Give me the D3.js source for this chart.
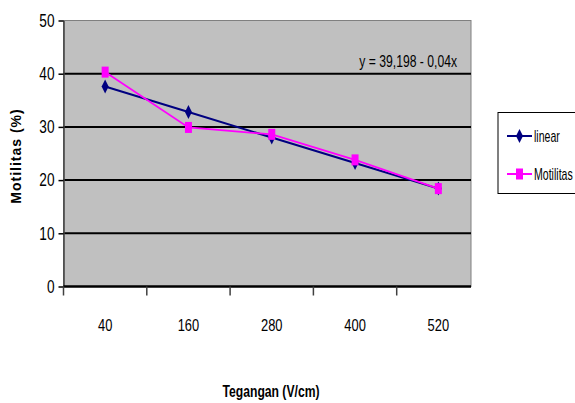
<!DOCTYPE html>
<html>
<head>
<meta charset="utf-8">
<script src="https://cdn.jsdelivr.net/npm/d3@7"></script>
<style>
body{margin:0;background:#fff;}
text{font-family:"Liberation Sans",Arial,sans-serif;}
</style>
</head>
<body>
<div id="chart"></div>
<script>
// data
var categories=['40','160','280','400','520'];
var linear=[37.6,32.8,28.0,23.2,18.4];
var motilitas=[40.3,29.9,28.6,23.8,18.4];
var yTicks=[0,10,20,30,40,50];

var W=575,H=403;
var pLeft=63.5,pTop=20.5,pBottom=286.5,pRight=471;
var narrow=0.76; // condensed look of the original font

var svg=d3.select('#chart').append('svg').attr('width',W).attr('height',H);

var x=d3.scaleBand().domain(categories).range([pLeft,480]);
var y=d3.scaleLinear().domain([0,50]).range([pBottom,pTop]);

// text squeezed horizontally around its anchor point
function ntext(g,str,tx,ty,size,anchor,bold,sx){
  return g.append('text').text(str)
    .attr('transform','translate('+tx+','+ty+') scale('+(sx||narrow)+',1)')
    .attr('text-anchor',anchor||'start')
    .style('font-size',size+'px').style('font-weight',bold?'bold':'normal');
}

// plot area
svg.append('rect').attr('x',pLeft).attr('y',pTop).attr('width',pRight-pLeft).attr('height',pBottom-pTop)
  .style('fill','#c0c0c0').style('stroke','#808080').style('stroke-width',1);

// gridlines
svg.selectAll('.grid').data(yTicks.filter(d=>d>0&&d<50)).enter().append('line')
  .attr('x1',pLeft).attr('x2',pRight).attr('y1',d=>y(d)).attr('y2',d=>y(d))
  .style('stroke','#000').style('stroke-width',2);

// y axis
var yAxis=svg.append('g').attr('transform','translate('+pLeft+',0)')
  .call(d3.axisLeft(y).tickValues(yTicks).tickSize(5).tickSizeOuter(0));
yAxis.select('.domain').style('stroke','#404040').style('stroke-width',1.5);
yAxis.selectAll('.tick line').style('stroke','#000').style('stroke-width',1.5);
yAxis.selectAll('.tick text').style('font-size','18px').style('fill','#000')
  .attr('x',-9).attr('transform','translate(-9,0) scale('+narrow+',1) translate(9,0)');

// x axis
var xAxis=svg.append('g').attr('transform','translate(0,'+pBottom+')')
  .call(d3.axisBottom(x).tickSize(0).tickSizeOuter(0));
xAxis.select('.domain').remove();
svg.append('line').attr('x1',pLeft).attr('x2',pRight).attr('y1',pBottom).attr('y2',pBottom)
  .style('stroke','#000').style('stroke-width',2.5);
svg.selectAll('.xtick').data(categories).enter().append('line')
  .attr('x1',d=>x(d)).attr('x2',d=>x(d)).attr('y1',pBottom).attr('y2',pBottom+9)
  .style('stroke','#404040').style('stroke-width',1.5);
xAxis.selectAll('.tick text').style('font-size','17px').style('fill','#000')
  .attr('dy',0).attr('y',45).attr('transform','scale('+narrow+',1)');

// lines
var line=d3.line().x((d,i)=>x(categories[i])+x.bandwidth()/2).y(d=>y(d));
svg.append('path').datum(linear).attr('d',line).style('fill','none').style('stroke','#000080').style('stroke-width',2);
svg.append('path').datum(motilitas).attr('d',line).style('fill','none').style('stroke','#ff00ff').style('stroke-width',1.8);

// markers
var diamond='M0,-7L3.5,0L0,7L-3.5,0Z';
svg.selectAll('.dm').data(linear).enter().append('path')
  .attr('d',diamond).attr('transform',(d,i)=>'translate('+(x(categories[i])+x.bandwidth()/2)+','+y(d)+')')
  .style('fill','#000080');
svg.selectAll('.sq').data(motilitas).enter().append('rect')
  .attr('x',(d,i)=>x(categories[i])+x.bandwidth()/2-3.5).attr('y',d=>y(d)-5.5)
  .attr('width',7).attr('height',11).style('fill','#ff00ff');

// equation label
ntext(svg,'y = 39,198 - 0,04x',457,67,16,'end');

// axis titles
svg.append('text').text('Motilitas (%)').attr('transform','translate(21,156) rotate(-90)')
  .attr('text-anchor','middle').style('font-weight','bold').style('font-size','14px')
  .style('letter-spacing','1px');
ntext(svg,'Tegangan (V/cm)',271,397,16,'middle',true);

// legend
var lg=svg.append('g');
lg.append('rect').attr('x',498).attr('y',112.5).attr('width',90).attr('height',81)
  .style('fill','#fff').style('stroke','#000').style('stroke-width',1);
var items=[{name:'linear',color:'#000080',shape:'d'},{name:'Motilitas',color:'#ff00ff',shape:'s'}];
items.forEach((it,i)=>{
  var yy=136+i*38;
  lg.append('line').attr('x1',507).attr('x2',532).attr('y1',yy).attr('y2',yy)
    .style('stroke',it.color).style('stroke-width',2);
  if(it.shape=='d'){
    lg.append('path').attr('d',diamond).attr('transform','translate(519.5,'+yy+')').style('fill',it.color);
  }else{
    lg.append('rect').attr('x',516).attr('y',yy-5.5).attr('width',7).attr('height',11).style('fill',it.color);
  }
  ntext(lg,it.name,534,yy+6,16,'start',false,0.66);
});
</script>
</body>
</html>
